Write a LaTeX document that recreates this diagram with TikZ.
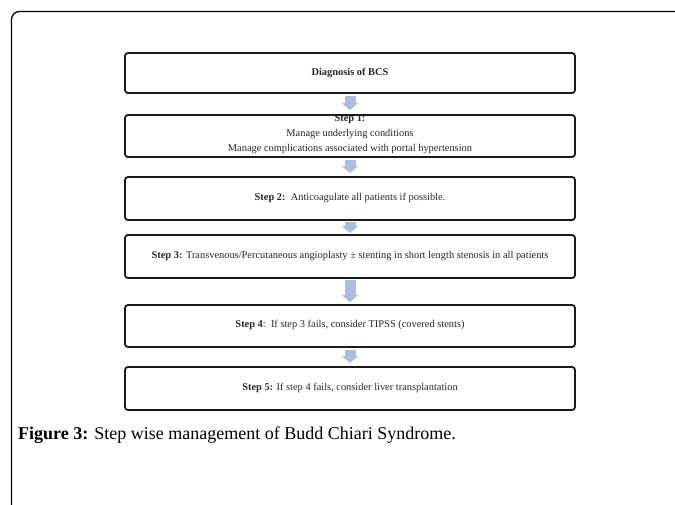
\documentclass[tikz,border=0pt]{standalone}
\usepackage{fontspec}
\setmainfont{Liberation Serif}
\usetikzlibrary{arrows.meta}
\definecolor{arrowblue}{HTML}{A9BDE2}
\definecolor{boxline}{HTML}{1A1A1A}
\tikzset{
  x=1pt,y=-1pt,
  stepbox/.style={draw=boxline,line width=1.8pt,rounded corners=3pt},
  boxtext/.style={font=\fontsize{10.4}{14}\selectfont,align=center,text=black!85},
  blockarr/.style={-{Triangle[width=16pt,length=7pt]},line width=11pt,draw=arrowblue}
}
\begin{document}
\begin{tikzpicture}
\useasboundingbox (0,0) rectangle (675,505);
% outer frame
\draw[line width=1.3pt,rounded corners=8pt] (11.5,520) -- (11.5,11.5) -- (690,11.5);
% anchor coordinates
\coordinate (b1s) at (350,93);
\coordinate (b2n) at (350,115); \coordinate (b2s) at (350,157);
\coordinate (b3n) at (350,177); \coordinate (b3s) at (350,220);
\coordinate (b4n) at (350,235); \coordinate (b4s) at (350,278);
\coordinate (b5n) at (350,305); \coordinate (b5s) at (350,347);
\coordinate (b6n) at (350,367);
% arrows
\draw[blockarr,shorten <=3pt,shorten >=5pt] (b1s) -- (b2n);
\draw[blockarr,shorten <=3pt,shorten >=4pt] (b2s) -- (b3n);
\draw[blockarr,shorten <=2pt,shorten >=2pt] (b3s) -- (b4n);
\draw[blockarr,shorten <=2pt,shorten >=3pt] (b4s) -- (b5n);
\draw[blockarr,shorten <=3pt,shorten >=4pt] (b5s) -- (b6n);
% boxes
\draw[stepbox] (125,53) rectangle (575,93);
\node[boxtext] (t1) at (350,73) {\textbf{Diagnosis of BCS}};
\draw[stepbox] (125,115) rectangle (575,157);
\node[boxtext,font=\fontsize{10.4}{15}\selectfont] (t2) at (350,134.5) {\textbf{Step 1:}\\Manage underlying conditions\\Manage complications associated with portal hypertension};
\draw[stepbox] (125,177) rectangle (575,220);
\node[boxtext] (t3) at (350,198) {\textbf{Step 2:}\ \ Anticoagulate all patients if possible.};
\draw[stepbox] (125,235) rectangle (575,278);
\node[boxtext] (t4) at (350,256) {\textbf{Step 3:} Transvenous/Percutaneous angioplasty ± stenting in short length stenosis in all patients};
\draw[stepbox] (125,305) rectangle (575,347);
\node[boxtext] (t5) at (350,325) {\textbf{Step 4}:\ \ If step 3 fails, consider TIPSS (covered stents)};
\draw[stepbox] (125,367) rectangle (575,410);
\node[boxtext] (t6) at (350,388) {\textbf{Step 5:} If step 4 fails, consider liver transplantation};
% caption
\node[anchor=base west,inner sep=0pt,font=\fontsize{18}{22}\selectfont] (cap) at (18,439) {\textbf{Figure 3:} Step wise management of Budd Chiari Syndrome.};
\end{tikzpicture}
\end{document}
